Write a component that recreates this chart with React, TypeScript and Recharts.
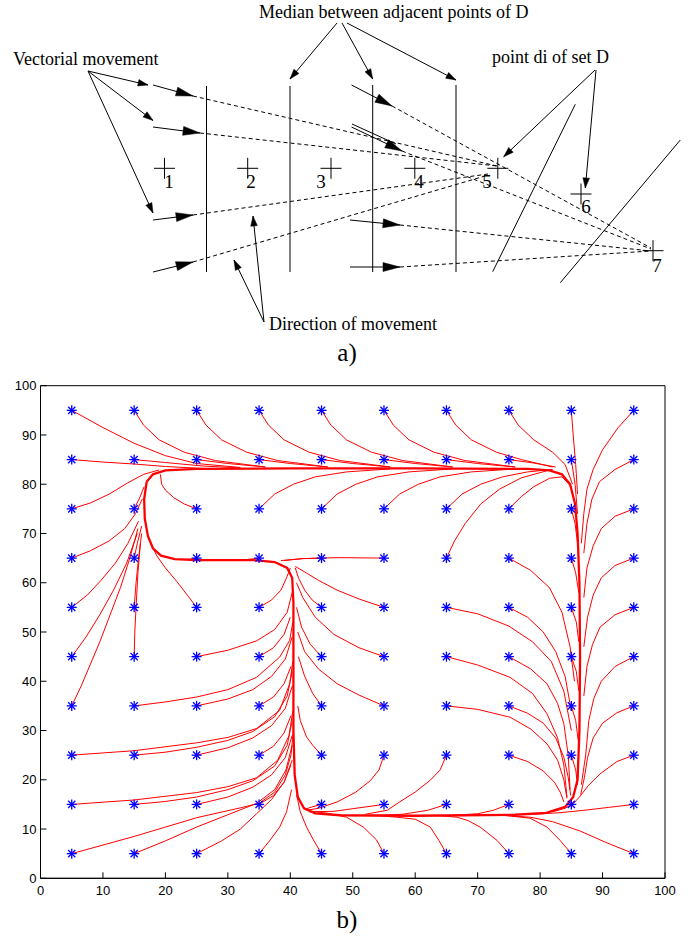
import React from "react";
import { ScatterChart, Scatter, XAxis, YAxis } from "recharts";

type Pt = [number, number];

// ---------- a) schematic, in diagram units (x 0..694, y 0..939 downward) ----------
const medianLines: Pt[][] = [
  [[206.5, 86], [206.5, 272]],
  [[290, 86], [290, 272]],
  [[372.7, 85], [372.7, 272]],
  [[456, 85], [456, 272]],
];
const slantLines: Pt[][] = [
  [[575.3, 104.3], [492.7, 271.7]],
  [[680.3, 140], [560.3, 282.7]],
];
const vectorArrows: Pt[][] = [
  [[153, 85], [193, 96]],
  [[153, 127], [200, 133]],
  [[153, 220], [193, 215]],
  [[153, 272], [193, 262]],
  [[351.5, 85], [392, 106]],
  [[351.5, 127], [402, 151]],
  [[350, 220], [400, 225]],
  [[350, 267], [400, 267]],
];
const extraStrokes: Pt[][] = [[[352, 124], [396, 144]]];
const movementPaths: Pt[][] = [
  [[193, 96], [497, 166]],
  [[200, 133], [497, 166]],
  [[193, 215], [488, 174]],
  [[193, 262], [485, 176]],
  [[392, 106], [651, 248]],
  [[402, 151], [651, 249]],
  [[400, 225], [651, 251]],
  [[400, 267], [651, 251]],
];
const pointerArrows: Pt[][] = [
  [[88, 71], [148, 85]],
  [[88, 71], [153, 120.5]],
  [[88, 71], [153, 213]],
  [[337, 23], [290, 79]],
  [[342, 23], [372.7, 79]],
  [[347, 23], [456, 80]],
  [[595, 70], [503.7, 156.7]],
  [[596, 70], [585.3, 188]],
  [[264, 322], [234, 260]],
  [[264, 322], [253, 216]],
];
const pointsD: Pt[] = [
  [164.5, 168.3], [247.7, 168.3], [331, 168.3], [414.8, 168.3],
  [497.8, 168.3], [581, 194], [653, 250.7],
];
const pointNames = ["1", "2", "3", "4", "5", "6", "7"];
const nameAnchors: Pt[] = [
  [169, 188], [251, 188], [321, 188], [419, 188], [487, 188], [586, 213], [657, 271.5],
];
const captions = [
  "Vectorial movement",
  "Median between adjacent points of D",
  "point di of set D",
  "Direction of movement",
];
const captionAnchors: Pt[] = [[13, 65], [259, 18], [492, 63], [269, 330]];
const panelNames = ["a)", "b)"];
const panelAnchors: Pt[] = [[347, 361], [347, 928]];

// ---------- b) trajectories ----------
const xTicks = [0, 10, 20, 30, 40, 50, 60, 70, 80, 90, 100];
const yTicks = [0, 10, 20, 30, 40, 50, 60, 70, 80, 90, 100];
const gridX = [5, 15, 25, 35, 45, 55, 65, 75, 85, 95];
const gridY = [5, 15, 25, 35, 45, 55, 65, 75, 85, 95];

const loopPath: Pt[] = [
  [17, 80.5], [18, 82], [20, 82.8], [25, 83.1], [40, 83.2], [60, 83.2], [78, 83.1],
  [81.5, 82.8], [83.5, 82], [84.8, 80], [85.6, 76], [86, 70], [86.3, 60], [86.4, 45],
  [86.3, 30], [86, 20], [85.3, 16.5], [84, 14.5], [81, 13.3], [76, 12.9], [60, 12.7],
  [48, 12.8], [44, 13.2], [42.2, 14.2], [41.2, 16.5], [40.7, 21], [40.5, 30], [40.5, 45],
  [40.5, 56], [40.3, 61], [39.5, 63], [37.5, 64.2], [34, 64.6], [25, 64.6], [21.5, 64.8],
  [19.3, 65.5], [18, 67], [17.2, 69.5], [16.7, 73], [16.6, 77], [17, 80.5],
];

const row95: Pt[][] = [
  [[5, 95], [10, 91.5], [15, 88.3], [20, 85.8], [25, 84.2], [32, 83.4]],
  [[15, 95], [16.5, 92], [19, 89], [23, 86.5], [28, 84.8], [36, 83.5]],
  [[25, 95], [26.5, 92], [29, 89], [33, 86.5], [38, 84.8], [46, 83.5]],
  [[35, 95], [36.5, 92], [39, 89], [43, 86.5], [48, 84.8], [56, 83.5]],
  [[45, 95], [46.5, 92], [49, 89], [53, 86.5], [58, 84.8], [66, 83.5]],
  [[55, 95], [56.5, 92], [59, 89], [63, 86.5], [68, 84.8], [76, 83.5]],
  [[65, 95], [66.5, 92], [69, 89], [73, 86.5], [77, 85], [82, 83.5]],
  [[75, 95], [76.5, 92], [79, 89], [82, 86.5], [84, 84], [85.2, 80]],
  [[85, 95], [85.3, 90], [85.7, 84], [86, 78]],
  [[95, 95], [92.5, 91.5], [90, 87], [88.5, 83], [87.5, 79], [87, 74], [86.6, 68]],
];
const row85: Pt[][] = [
  [[5, 85], [10, 84.5], [15, 84.1], [20, 83.6], [26, 83.2]],
  [[15, 85], [20, 84.4], [26, 83.7], [32, 83.3]],
  [[25, 85], [30, 84.2], [36, 83.5]],
  [[35, 85], [40, 84.2], [46, 83.5]],
  [[45, 85], [50, 84.2], [56, 83.5]],
  [[55, 85], [60, 84.2], [66, 83.5]],
  [[65, 85], [70, 84.2], [76, 83.5]],
  [[75, 85], [79, 84.3], [82.5, 83.5]],
  [[85, 85], [85.6, 80], [86, 74]],
  [[95, 85], [92, 83], [89.5, 80.5], [88.3, 77], [87.5, 72], [87, 66]],
];
const row75: Pt[][] = [
  [[5, 75], [8, 76.2], [11, 78], [14, 80.3], [16.5, 82], [19, 82.9]],
  [[15, 75], [15.8, 77], [16.6, 79.5]],
  [[25, 75], [23, 76], [21.3, 77.3], [20, 78.8], [19.4, 80], [19.2, 82]],
  [[35, 75], [37.5, 78], [40.5, 80], [44, 81.5], [49, 82.5], [56, 83.1]],
  [[45, 75], [47.5, 78], [50.5, 80], [54, 81.5], [59, 82.5], [66, 83.1]],
  [[55, 75], [57.5, 78], [60.5, 80], [64, 81.5], [69, 82.5], [76, 83.1]],
  [[65, 75], [67.5, 78], [70.5, 80], [74, 81.5], [78, 82.5], [82, 83]],
  [[75, 75], [77, 77.5], [79, 79.5], [81.5, 81.2], [83.5, 81.5], [85, 79.5]],
  [[85, 75], [85.6, 72], [86, 68]],
  [[95, 75], [92, 73.5], [89.8, 71], [88.5, 67.5], [87.5, 63], [87, 57]],
];
const row65: Pt[][] = [
  [[5, 65], [8, 66.5], [11, 68.5], [13.5, 71], [15.2, 74], [16.3, 77]],
  [[15, 65], [15.5, 68], [16.2, 71.5]],
  [[25, 65], [24, 64.8], [22, 64.7]],
  [[35, 65], [33, 64.7], [30, 64.6]],
  [[45, 65], [42, 64.9], [39, 64.5]],
  [[55, 65], [48, 65.1], [42, 64.9], [38.5, 64.5]],
  [[65, 65], [66.3, 68.5], [68, 72], [70.5, 76], [73.5, 79], [77, 81.3], [81, 82.7]],
  [[75, 65], [78.5, 62.5], [81.5, 59], [83.5, 54], [84.8, 47], [85.5, 40]],
  [[85, 65], [85.7, 62], [86.2, 58]],
  [[95, 65], [92, 63.5], [89.8, 61], [88.5, 57.5], [87.6, 53], [87, 47]],
];
const row55: Pt[][] = [
  [[5, 55], [7.5, 57.5], [9.7, 60.5], [12, 64], [14, 68], [15.7, 72.5]],
  [[15, 55], [15.3, 60], [15.7, 65], [16.2, 70]],
  [[25, 55], [23.5, 57.5], [21.8, 60.3], [20, 63], [18.6, 65.5], [17.3, 69]],
  [[35, 55], [37, 56.5], [38.5, 58.5], [39.4, 61], [40, 63]],
  [[45, 55], [43.5, 56.5], [42.3, 58.5], [41.3, 61], [40.8, 63]],
  [[55, 55], [51, 56.7], [47.5, 58.5], [44.5, 60.5], [42.3, 62.2], [40.8, 63.3]],
  [[65, 55], [70, 53.7], [75, 51.2], [78.8, 48], [81.8, 44], [83.8, 38], [85, 30]],
  [[75, 55], [78, 53], [80.5, 50], [82.5, 46], [84, 41], [85, 34]],
  [[85, 55], [85.8, 52], [86.2, 48]],
  [[95, 55], [92, 53.5], [89.6, 51], [88.4, 47.5], [87.5, 43], [87, 37]],
];
const row45: Pt[][] = [
  [[5, 45], [7.3, 49], [9.5, 53.5], [11.7, 58.5], [13.8, 64], [15.5, 70]],
  [[15, 45], [15.1, 50], [15.3, 55], [15.6, 62], [16, 68]],
  [[25, 45], [30, 46.3], [34.6, 48.2], [37.5, 50.5], [39.5, 54], [40.3, 58]],
  [[35, 45], [37.3, 46.8], [39, 49.5], [40, 53]],
  [[45, 45], [43.2, 47.5], [41.8, 51], [41, 55]],
  [[55, 45], [51, 46.8], [47, 49.5], [44, 53], [42, 57], [41, 60]],
  [[65, 45], [70, 43.3], [75.2, 40.8], [78.8, 37.5], [81.1, 33.4], [82.8, 28.5], [83.8, 23], [84.3, 16.5]],
  [[75, 45], [78.5, 42.5], [81.1, 39.5], [82.8, 35.5], [83.8, 31.4], [84.5, 25], [84.8, 18]],
  [[85, 45], [85.8, 42], [86.2, 38]],
  [[95, 45], [92, 43], [89.8, 40], [88.6, 36.5], [87.8, 32], [87.3, 25], [86.6, 19]],
];
const row35: Pt[][] = [
  [[5, 35], [6.5, 39], [8, 43.5], [9.5, 48], [11, 53], [12.8, 59], [14.3, 65], [15.6, 71]],
  [[15, 35], [20, 35.8], [25, 36.8], [30, 38.3], [34.6, 40.8], [38.3, 44.9], [39.9, 48.3], [40.4, 52]],
  [[25, 35], [30, 36.4], [34, 38.3], [37, 41], [39.2, 44.5], [40.3, 49]],
  [[35, 35], [37.3, 36.8], [39, 39.5], [40.1, 43]],
  [[45, 35], [43.6, 37.5], [42.3, 41], [41.3, 45]],
  [[55, 35], [51, 37.2], [47.5, 39.5], [44.5, 42.5], [42.3, 46], [41.2, 50]],
  [[65, 35], [70, 34.3], [75.2, 32.7], [78.5, 30.3], [81.1, 27.3], [82.8, 24], [83.8, 20], [84.3, 16.2]],
  [[75, 35], [78, 33.5], [80.5, 31.5], [82.5, 28.5], [83.8, 24.6], [84.5, 20.5], [84.9, 16.8]],
  [[85, 35], [85.7, 32], [86.1, 28]],
  [[95, 35], [92.3, 33.6], [90, 31.5], [88.5, 28.5], [87.6, 24.5], [87.1, 20.5], [86.5, 17]],
];
const row25: Pt[][] = [
  [[5, 25], [15, 25.9], [25, 27.5], [30, 28.6], [34.6, 30.4], [38.3, 34.1], [39.9, 39.5], [40.4, 44]],
  [[15, 25], [20, 25.6], [25, 26.6], [30, 28], [34, 29.8], [37.5, 32.8], [39.5, 37], [40.3, 42]],
  [[25, 25], [30, 26.5], [34, 28.5], [37, 31], [39.2, 34.5], [40.3, 39]],
  [[35, 25], [37.3, 26.8], [39, 29.5], [40.1, 33]],
  [[45, 25], [43.6, 27], [42.6, 28.7], [41.6, 32], [41.2, 35]],
  [[55, 25], [54.2, 22], [52.8, 19.8], [50.5, 17.5], [47.5, 15.5], [44.5, 14.2], [42.5, 13.8]],
  [[65, 25], [64, 22], [62.4, 19.9], [60, 17.5], [57.5, 15.5], [55.5, 13.8], [52, 13]],
  [[75, 25], [78, 23.7], [80.5, 21.8], [82.3, 19.5], [83.3, 17.3], [83.8, 15.5]],
  [[85, 25], [85.7, 22], [86, 19]],
  [[95, 25], [92.3, 23.7], [89.6, 21.2], [87.7, 18.8], [86.3, 16.5], [85.2, 15]],
];
const row15: Pt[][] = [
  [[5, 15], [15, 15.9], [25, 17.4], [30, 18.6], [34.6, 20.4], [38, 24], [39.8, 29], [40.4, 34]],
  [[15, 15], [20, 15.6], [25, 16.5], [30, 18], [34, 19.8], [37.5, 22.8], [39.5, 27], [40.3, 32]],
  [[25, 15], [30, 16.5], [34, 18.5], [37, 21], [39.2, 24.5], [40.3, 29]],
  [[35, 15], [37.3, 16.8], [39, 19.5], [40.1, 23]],
  [[45, 15], [43.5, 14.5], [42.3, 14]],
  [[55, 15], [51, 14.3], [47, 13.6], [43, 13.5]],
  [[65, 15], [62, 13.8], [58, 13], [53, 12.7]],
  [[75, 15], [72.5, 13.8], [70, 13.1], [66, 12.8]],
  [[85, 15], [84, 14.2], [82, 13.5]],
  [[95, 15], [91, 14.4], [87, 13.8], [83, 13.3], [79, 13]],
];
const row5: Pt[][] = [
  [[5, 5], [15, 8.5], [25, 12.3], [32, 14.3], [35, 15.2], [37.5, 17.5], [39.2, 21], [40.1, 25], [40.5, 30]],
  [[15, 5], [20, 7.6], [25, 10.4], [30, 12.9], [34.6, 15.2], [37.5, 18], [39.3, 22], [40.3, 27]],
  [[25, 5], [29, 7.6], [32, 10], [34.6, 13.1], [37, 16], [39, 19.5], [40.3, 24]],
  [[35, 5], [36.8, 7.8], [38.3, 10.4], [39.4, 13.5], [40.2, 18]],
  [[45, 5], [43.7, 7.8], [42.6, 10.4], [41.6, 13.5], [41, 17]],
  [[55, 5], [53.8, 7.8], [51.7, 10.4], [49, 12.4], [46, 13.2], [43.5, 13.6]],
  [[65, 5], [63.8, 7.7], [62.4, 10.4], [60, 12], [57.1, 12.4], [53, 12.8]],
  [[75, 5], [73.1, 7.7], [70.4, 10.4], [68.5, 11.7], [66.7, 12.4], [63, 12.8]],
  [[85, 5], [83.2, 7.7], [81.1, 10.4], [78.4, 12.2], [74, 12.8]],
  [[95, 5], [90.5, 7.3], [86.4, 9.6], [82, 11.5], [78.4, 12.4], [74, 12.8]],
];

const trajectories = [...row95, ...row85, ...row75, ...row65, ...row55, ...row45, ...row35, ...row25, ...row15, ...row5];

const SERIF = '"Liberation Serif", "Times New Roman", serif';
const SANS = '"Liberation Sans", Arial, Helvetica, sans-serif';
const RED = "#ff0000";
const BLUE = "#0000ff";

const toXY = (pts: Pt[]) => pts.map(([x, y]) => ({ x, y }));
const NoDot = () => <g />;

function headShape(len: number, half: number) {
  return (p: any) => {
    const { cx, cy, payload } = p;
    const L = Math.hypot(payload.dx, payload.dy) || 1;
    const ux = payload.dx / L;
    const uy = payload.dy / L;
    const bx = cx - ux * len;
    const by = cy - uy * len;
    const d = `M${cx},${cy}L${bx - uy * half},${by + ux * half}L${bx + uy * half},${by - ux * half}Z`;
    return <path d={d} fill="#000" stroke="#000" strokeWidth={0.5} />;
  };
}
const heads = (arrows: Pt[][]) =>
  arrows.map(([a, b]) => ({ x: b[0], y: b[1], dx: b[0] - a[0], dy: b[1] - a[1] }));

const Cross = (p: any) => (
  <g stroke="#000" strokeWidth={1}>
    <line x1={p.cx - 10.5} y1={p.cy} x2={p.cx + 10.5} y2={p.cy} />
    <line x1={p.cx} y1={p.cy - 10.5} x2={p.cx} y2={p.cy + 10.5} />
  </g>
);
const textShape = (size: number, anchor: "start" | "middle") => (p: any) => (
  <text x={p.cx} y={p.cy} fontSize={size} fontFamily={SERIF} textAnchor={anchor} fill="#000">
    {p.payload.t}
  </text>
);

const Star = (p: any) => {
  const { cx, cy } = p;
  return (
    <g stroke={BLUE} strokeWidth={1.3}>
      <line x1={cx - 5} y1={cy} x2={cx + 5} y2={cy} />
      <line x1={cx} y1={cy - 5} x2={cx} y2={cy + 5} />
      <line x1={cx - 3.6} y1={cy - 3.6} x2={cx + 3.6} y2={cy + 3.6} />
      <line x1={cx - 3.6} y1={cy + 3.6} x2={cx + 3.6} y2={cy - 3.6} />
    </g>
  );
};

const BottomTick = ({ x, y, payload }: any) => (
  <g>
    <line x1={x} y1={y} x2={x} y2={y - 6} stroke="#000" />
    <text x={x} y={y + 17} textAnchor="middle" fontSize={13} fontFamily={SANS} fill="#000">
      {payload.value}
    </text>
  </g>
);
const TopTick = ({ x, y }: any) => <line x1={x} y1={y} x2={x} y2={y + 6} stroke="#000" />;
const LeftTick = ({ x, y, payload }: any) => (
  <g>
    <line x1={x} y1={y} x2={x + 6} y2={y} stroke="#000" />
    <text x={x - 4} y={y + 4.6} textAnchor="end" fontSize={13} fontFamily={SANS} fill="#000">
      {payload.value}
    </text>
  </g>
);
const RightTick = ({ x, y }: any) => <line x1={x} y1={y} x2={x - 6} y2={y} stroke="#000" />;

function Diagram() {
  const solid = [...medianLines, ...slantLines];
  return (
    <ScatterChart width={694} height={939} margin={{ top: 0, right: 0, bottom: 0, left: 0 }}>
      <XAxis type="number" dataKey="x" domain={[0, 694]} hide />
      <YAxis type="number" dataKey="y" domain={[0, 939]} reversed hide />
      {solid.map((s, i) => (
        <Scatter key={`s${i}`} data={toXY(s)} line={{ stroke: "#000", strokeWidth: 1 }} shape={NoDot} isAnimationActive={false} />
      ))}
      {movementPaths.map((s, i) => (
        <Scatter key={`d${i}`} data={toXY(s)} line={{ stroke: "#000", strokeWidth: 1, strokeDasharray: "4 3" }} shape={NoDot} isAnimationActive={false} />
      ))}
      {[...vectorArrows, ...extraStrokes].map((s, i) => (
        <Scatter key={`v${i}`} data={toXY(s)} line={{ stroke: "#000", strokeWidth: 1 }} shape={NoDot} isAnimationActive={false} />
      ))}
      {pointerArrows.map((s, i) => (
        <Scatter key={`p${i}`} data={toXY(s)} line={{ stroke: "#000", strokeWidth: 1 }} shape={NoDot} isAnimationActive={false} />
      ))}
      <Scatter data={heads(vectorArrows)} shape={headShape(17, 4.5)} isAnimationActive={false} />
      <Scatter data={heads(pointerArrows)} shape={headShape(10, 3.3)} isAnimationActive={false} />
      <Scatter data={toXY(pointsD)} shape={Cross} isAnimationActive={false} />
      <Scatter
        data={nameAnchors.map(([x, y], i) => ({ x, y, t: pointNames[i] }))}
        shape={textShape(19, "middle")}
        isAnimationActive={false}
      />
      <Scatter
        data={captionAnchors.map(([x, y], i) => ({ x, y, t: captions[i] }))}
        shape={textShape(18, "start")}
        isAnimationActive={false}
      />
      <Scatter
        data={panelAnchors.map(([x, y], i) => ({ x, y, t: panelNames[i] }))}
        shape={textShape(25, "middle")}
        isAnimationActive={false}
      />
    </ScatterChart>
  );
}

function Trajectories() {
  const stars = gridY.flatMap((y) => gridX.map((x) => ({ x, y })));
  return (
    <ScatterChart width={694} height={569} margin={{ top: 14.7, right: 28, bottom: 59.7, left: 39.5 }}>
      <XAxis type="number" dataKey="x" domain={[0, 100]} ticks={xTicks} interval={0} height={1}
        tickSize={0} tickMargin={0} tickLine={false} axisLine={{ stroke: "#000" }} tick={BottomTick} />
      <XAxis xAxisId="top" orientation="top" type="number" dataKey="x" domain={[0, 100]} ticks={xTicks}
        interval={0} height={1} tickSize={0} tickMargin={0} tickLine={false} axisLine={false} tick={TopTick} />
      <YAxis type="number" dataKey="y" domain={[0, 100]} ticks={yTicks} interval={0} width={1}
        tickSize={0} tickMargin={0} tickLine={false} axisLine={false} tick={LeftTick} />
      <YAxis yAxisId="right" orientation="right" type="number" dataKey="y" domain={[0, 100]} ticks={yTicks}
        interval={0} width={1} tickSize={0} tickMargin={0} tickLine={false} axisLine={false} tick={RightTick} />
      {trajectories.map((t, i) => (
        <Scatter key={`t${i}`} data={toXY(t)} line={{ stroke: RED, strokeWidth: 1 }} shape={NoDot} isAnimationActive={false} />
      ))}
      <Scatter data={toXY(loopPath)} line={{ stroke: RED, strokeWidth: 2.3 }} shape={NoDot} isAnimationActive={false} />
      <Scatter data={stars} shape={Star} isAnimationActive={false} />
      <Scatter
        data={[{ x: 0, y: 0 }, { x: 100, y: 0 }, { x: 100, y: 100 }, { x: 0, y: 100 }, { x: 0, y: 0 }]}
        line={{ stroke: "#000", strokeWidth: 1 }}
        shape={NoDot}
        isAnimationActive={false}
      />
    </ScatterChart>
  );
}

export default function App() {
  return (
    <div style={{ position: "absolute", left: 0, top: 0, width: 694, height: 939, background: "#fff" }}>
      <div style={{ position: "absolute", left: 0, top: 0 }}>
        <Diagram />
      </div>
      <div style={{ position: "absolute", left: 0, top: 370 }}>
        <Trajectories />
      </div>
    </div>
  );
}
